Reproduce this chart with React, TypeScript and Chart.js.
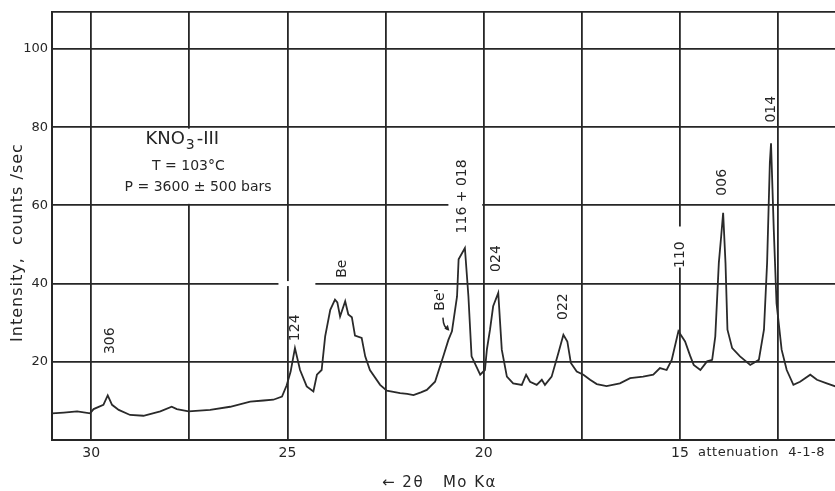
import React, { useEffect, useRef } from "react";
import { Chart, registerables } from "chart.js";

Chart.register(...registerables);

// 2θ (degrees, Mo Kα), high angle on the left
const twoTheta = [
  31.0, 30.7, 30.36, 30.03, 29.94, 29.69, 29.58, 29.47, 29.3, 29.01, 28.67, 28.24, 27.95, 27.82, 27.52,
  26.97, 26.46, 25.95, 25.61, 25.36, 25.14, 25.02, 24.92, 24.81, 24.68, 24.51, 24.34, 24.25, 24.13,
  24.04, 23.91, 23.79, 23.73, 23.66, 23.53, 23.45, 23.36, 23.28, 23.11, 23.02, 22.9, 22.64, 22.47,
  22.3, 22.13, 21.95, 21.79, 21.6, 21.45, 21.24, 21.03, 20.9, 20.81, 20.68, 20.64, 20.48, 20.39,
  20.31, 20.09, 19.97, 19.92, 19.84, 19.76, 19.63, 19.54, 19.41, 19.25, 19.03, 18.92, 18.82, 18.65,
  18.52, 18.44, 18.27, 18.1, 17.97, 17.87, 17.78, 17.63, 17.46, 17.29, 17.12, 16.87, 16.53, 16.27,
  15.94, 15.68, 15.51, 15.34, 15.21, 15.04, 14.87, 14.74, 14.65, 14.48, 14.31, 14.18, 14.1, 14.01,
  13.95, 13.9, 13.84, 13.79, 13.67, 13.47, 13.21, 12.99, 12.86, 12.78, 12.71, 12.68, 12.61, 12.54,
  12.41, 12.28, 12.11, 11.94, 11.68, 11.51, 11.26, 11.04,
];

// Intensity (counts/sec)
const intensity = [
  6.8, 7.0, 7.3, 6.8, 7.9, 9.0, 11.4, 9.0, 7.7, 6.4, 6.2, 7.3, 8.5, 7.9, 7.3,
  7.7, 8.5, 9.8, 10.1, 10.3, 11.1, 14.0, 17.5, 23.5, 17.9, 13.7, 12.4, 16.7, 17.9,
  26.5, 33.3, 35.9, 35.2, 31.6, 35.5, 32.1, 31.4, 26.7, 26.1, 21.4, 17.9, 14.1, 12.6,
  12.3, 12.0, 11.8, 11.5, 12.2, 12.8, 14.9, 21.4, 25.6, 27.8, 36.7, 46.2, 49.1, 36.7,
  21.4, 16.7, 17.9, 23.1, 28.2, 34.2, 37.6, 23.1, 16.2, 14.5, 14.1, 16.7, 14.9, 14.1,
  15.4, 14.1, 16.2, 22.2, 26.9, 25.2, 19.7, 17.5, 16.7, 15.4, 14.3, 13.8, 14.5, 15.8,
  16.2, 16.7, 18.4, 17.9, 20.5, 27.8, 25.2, 21.5, 19.2, 17.9, 20.1, 20.5, 26.5, 45.3,
  52.1, 58.1, 45.3, 28.2, 23.5, 21.4, 19.2, 20.5, 28.2, 45.3, 70.9, 75.9, 53.8, 35.0,
  23.1, 17.9, 14.1, 14.9, 16.7, 15.4, 14.5, 13.7,
];

const xTickValues = [12.5, 15, 17.5, 20, 22.5, 25, 27.5, 30];
const yTickValues = [0, 20, 40, 60, 80, 100, 109.5];

// Reflection labels (rotated) and where they sit, in data units
const peakLabels = ["306", "124", "Be", "Be'", "116 + 018", "024", "022", "110", "006", "014"];
const peakLabelX = [29.52, 24.81, 23.61, 21.11, 20.55, 19.69, 17.96, 15.0, 13.91, 12.68];
const peakLabelY = [25.4, 28.7, 43.8, 35.9, 62.3, 46.4, 34.1, 47.4, 65.9, 84.6];

const infoLines = ["T = 103°C", "P = 3600 ± 500 bars"];

const X_MIN = 11.05;
const X_MAX = 31;
const Y_MAX = 109.5;
const INK = "#262626";

export default function App() {
  const canvasRef = useRef<HTMLCanvasElement | null>(null);

  useEffect(() => {
    const canvas = canvasRef.current;
    if (!canvas) return;

    const points = twoTheta.map((x, i) => ({ x, y: intensity[i] }));

    const decor = {
      id: "decor",
      beforeDatasetsDraw(chart: any) {
        const { ctx } = chart;
        const xs = chart.scales.x;
        const ys = chart.scales.y;
        ctx.save();
        ctx.fillStyle = "#ffffff";
        // gaps in the 40 and 60 grid lines
        const h40 = ys.getPixelForValue(40);
        ctx.fillRect(xs.getPixelForValue(25.23), h40 - 2.5, xs.getPixelForValue(24.29) - xs.getPixelForValue(25.23), 5);
        const h60 = ys.getPixelForValue(60);
        ctx.fillRect(xs.getPixelForValue(20.9), h60 - 2.5, xs.getPixelForValue(20.0) - 1.5 - xs.getPixelForValue(20.9), 5);
        // gaps in the 15 and 27.5 vertical lines
        const v15 = xs.getPixelForValue(15);
        ctx.fillRect(v15 - 2.5, ys.getPixelForValue(54.6), 5, ys.getPixelForValue(44.1) - ys.getPixelForValue(54.6));
        const v275 = xs.getPixelForValue(27.5);
        ctx.fillRect(v275 - 2.5, ys.getPixelForValue(80) + 1.5, 5, ys.getPixelForValue(60) - ys.getPixelForValue(80) - 3);
        ctx.restore();
      },
      afterDraw(chart: any) {
        const { ctx, chartArea } = chart;
        const xs = chart.scales.x;
        const ys = chart.scales.y;
        ctx.save();
        ctx.fillStyle = INK;
        ctx.strokeStyle = INK;

        // rotated peak labels
        ctx.font = "14px 'DejaVu Sans'";
        ctx.textAlign = "center";
        ctx.textBaseline = "middle";
        peakLabels.forEach((t, i) => {
          ctx.save();
          ctx.translate(xs.getPixelForValue(peakLabelX[i]), ys.getPixelForValue(peakLabelY[i]));
          ctx.rotate(-Math.PI / 2);
          ctx.fillText(t, 0, 0);
          ctx.restore();
        });

        // arrow from Be' label to shoulder
        const ax0 = xs.getPixelForValue(21.04);
        const ay0 = ys.getPixelForValue(31.3);
        const ax1 = xs.getPixelForValue(20.9);
        const ay1 = ys.getPixelForValue(28.2);
        ctx.lineWidth = 1.5;
        ctx.beginPath();
        ctx.moveTo(ax0, ay0);
        ctx.quadraticCurveTo(ax0 + 0.5, ay1 - 2, ax1, ay1);
        ctx.stroke();
        ctx.beginPath();
        ctx.moveTo(ax1 + 1, ay1 + 1);
        ctx.lineTo(ax1 - 4, ay1 - 1);
        ctx.lineTo(ax1 - 0.5, ay1 - 5);
        ctx.closePath();
        ctx.fill();

        // sample information block
        const bx = xs.getPixelForValue(28.62);
        const by = ys.getPixelForValue(76.9);
        ctx.textAlign = "left";
        ctx.textBaseline = "middle";
        ctx.font = "18px 'DejaVu Sans'";
        ctx.fillText("KNO", bx, by);
        const w = ctx.measureText("KNO").width;
        ctx.font = "14px 'DejaVu Sans'";
        ctx.fillText("3", bx + w + 1, by + 6);
        const w3 = ctx.measureText("3").width;
        ctx.font = "18px 'DejaVu Sans'";
        ctx.fillText("-III", bx + w + w3 + 3, by);
        ctx.font = "14px 'DejaVu Sans'";
        ctx.fillText(infoLines[0], xs.getPixelForValue(28.45), ys.getPixelForValue(70.0));
        ctx.fillText(infoLines[1], xs.getPixelForValue(29.15), ys.getPixelForValue(64.6));

        // attenuation note beside the 15 tick
        ctx.font = "13px 'DejaVu Sans'";
        (ctx as any).letterSpacing = "0.5px";
        ctx.fillText("attenuation  4-1-8", xs.getPixelForValue(15) + 18, chartArea.bottom + 13);

        // x-axis title
        ctx.textAlign = "center";
        ctx.font = "15px 'DejaVu Sans'";
        (ctx as any).letterSpacing = "1.5px";
        ctx.fillText("← 2θ   Mo Kα", (chartArea.left + chartArea.right) / 2 - 4, chartArea.bottom + 43);

        // y-axis title
        ctx.save();
        ctx.translate(18, ys.getPixelForValue(50.5));
        ctx.rotate(-Math.PI / 2);
        ctx.font = "16px 'DejaVu Sans'";
        (ctx as any).letterSpacing = "1px";
        ctx.fillText("Intensity,  counts /sec", 0, 0);
        ctx.restore();

        ctx.restore();
      },
    };

    const chart = new Chart(canvas, {
      type: "line",
      data: {
        datasets: [
          {
            data: points,
            borderColor: "#2a2a2a",
            borderWidth: 1.8,
            pointRadius: 0,
            tension: 0,
            fill: false,
          },
        ],
      },
      options: {
        responsive: false,
        animation: false,
        devicePixelRatio: 1,
        layout: { padding: { top: 11, right: 0, left: 0, bottom: 0 } },
        plugins: { legend: { display: false }, tooltip: { enabled: false }, title: { display: false } },
        scales: {
          x: {
            type: "linear",
            reverse: true,
            min: X_MIN,
            max: X_MAX,
            afterBuildTicks: (scale: any) => {
              scale.ticks = xTickValues.map((value) => ({ value }));
            },
            afterFit: (scale: any) => {
              scale.height = 51;
            },
            grid: { color: INK, lineWidth: 1.8, drawTicks: false },
            border: { display: true, color: INK, width: 2 },
            ticks: {
              autoSkip: false,
              maxRotation: 0,
              padding: 5,
              color: INK,
              font: { family: "'DejaVu Sans'", size: 14 },
              callback: (v: any) => (Number(v) % 5 === 0 ? String(v) : ""),
            },
          },
          y: {
            type: "linear",
            min: 0,
            max: Y_MAX,
            afterBuildTicks: (scale: any) => {
              scale.ticks = yTickValues.map((value) => ({ value }));
            },
            afterFit: (scale: any) => {
              scale.width = 52;
            },
            grid: { color: INK, lineWidth: 1.8, drawTicks: false },
            border: { display: true, color: INK, width: 2 },
            ticks: {
              padding: 4,
              color: INK,
              font: { family: "'DejaVu Sans'", size: 13 },
              callback: (v: any) => (Number(v) >= 20 && Number(v) <= 100 ? String(v) : ""),
            },
          },
        },
      },
      plugins: [decor],
    });

    return () => chart.destroy();
  }, []);

  return (
    <div style={{ position: "fixed", left: 0, top: 0, width: 835, height: 491, background: "#ffffff" }}>
      <canvas ref={canvasRef} width={835} height={491} />
    </div>
  );
}
